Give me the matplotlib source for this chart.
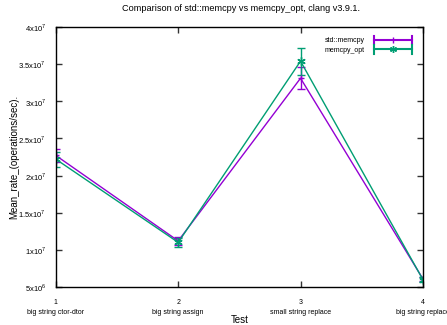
import matplotlib
matplotlib.use("Agg")
import matplotlib.pyplot as plt
from matplotlib.lines import Line2D
from matplotlib.legend_handler import HandlerBase
from matplotlib.ticker import FixedLocator

# data
tests = [1, 2, 3, 4]
test_names = ["big string ctor-dtor", "big string assign",
              "small string replace", "big string replace"]
memcpy_mean = [2.27e7, 1.12e7, 3.31e7, 6.1e6]
memcpy_err = [0.09e7, 0.05e7, 0.15e7, 0.03e7]
opt_mean = [2.22e7, 1.10e7, 3.54e7, 6.0e6]
opt_err = [0.10e7, 0.06e7, 0.18e7, 0.03e7]

y_ticks = [5e6, 1e7, 1.5e7, 2e7, 2.5e7, 3e7, 3.5e7, 4e7]
y_tick_labels = ["5x10$^6$", "1x10$^7$", "1.5x10$^7$", "2x10$^7$",
                 "2.5x10$^7$", "3x10$^7$", "3.5x10$^7$", "4x10$^7$"]

plt.rcParams["font.family"] = ["Liberation Sans", "DejaVu Sans"]
plt.rcParams["mathtext.fontset"] = "custom"
plt.rcParams["mathtext.rm"] = "Liberation Sans"


class GnuplotErrHandler(HandlerBase):
    """legend sample like gnuplot: horizontal bar, end caps, marker in middle"""
    def __init__(self, color, marker, ms):
        super().__init__()
        self.color, self.marker, self.ms = color, marker, ms

    def create_artists(self, legend, orig, xd, yd, w, h, fs, trans):
        y = yd + h / 2
        c = self.color
        arts = [Line2D([xd, xd + w], [y, y], color=c, lw=1.5),
                Line2D([xd, xd], [y - 3, y + 3], color=c, lw=1.5),
                Line2D([xd + w, xd + w], [y - 3, y + 3], color=c, lw=1.5),
                Line2D([xd + w / 2], [y], color=c, marker=self.marker,
                       ms=self.ms, ls="none", mew=1.0)]
        for a in arts:
            a.set_transform(trans)
        return arts


fig = plt.figure(figsize=(4.47, 3.25), dpi=100)
ax = fig.add_axes([0.125, 0.117, 0.821, 0.8])

ax.errorbar(tests, memcpy_mean, yerr=memcpy_err, color="#9400d3",
            marker="+", markersize=5, linewidth=1.0, capsize=3,
            elinewidth=1.0, label="std::memcpy")
ax.errorbar(tests, opt_mean, yerr=opt_err, color="#009e73",
            marker=(6, 2, 0), markersize=6, linewidth=1.0, capsize=3,
            elinewidth=1.0, label="memcpy_opt")

ax.set_xlim(1, 4)
ax.set_ylim(5e6, 4e7)
ax.xaxis.set_major_locator(FixedLocator(tests))
ax.set_xticklabels([f"{t}\n{n}" for t, n in zip(tests, test_names)],
                   fontsize=5, linespacing=1.5)
ax.yaxis.set_major_locator(FixedLocator(y_ticks))
ax.set_yticklabels(y_tick_labels, fontsize=5.5)
ax.tick_params(direction="in", length=4, width=1, top=True, right=True,
               color="#333333")
ax.tick_params(axis="x", pad=9)
ax.tick_params(axis="y", pad=7)
for s in ax.spines.values():
    s.set_linewidth(1.0)

fig.text(0.54, 0.975, "Comparison of std::memcpy vs memcpy_opt, clang v3.9.1.",
         fontsize=6.6, ha="center", va="center")
ax.set_xlabel("Test", fontsize=7)
ax.xaxis.set_label_coords(0.5, -0.127)
ax.xaxis.label.set_va("center")
ax.set_ylabel("Mean_rate_(operations/sec).", fontsize=7)
ax.yaxis.set_label_coords(-0.114, 0.5)
ax.yaxis.label.set_va("center")

h_mem = Line2D([], [])
h_opt = Line2D([], [])
ax.legend([h_mem, h_opt], ["std::memcpy", "memcpy_opt"],
          handler_map={h_mem: GnuplotErrHandler("#9400d3", "|", 4),
                       h_opt: GnuplotErrHandler("#009e73", (6, 2, 0), 5)},
          loc="upper right", fontsize=5, frameon=False, markerfirst=False,
          handlelength=5.6, handletextpad=1.3, borderaxespad=1.1,
          labelspacing=0.35)

fig.savefig("out.png", dpi=100)
